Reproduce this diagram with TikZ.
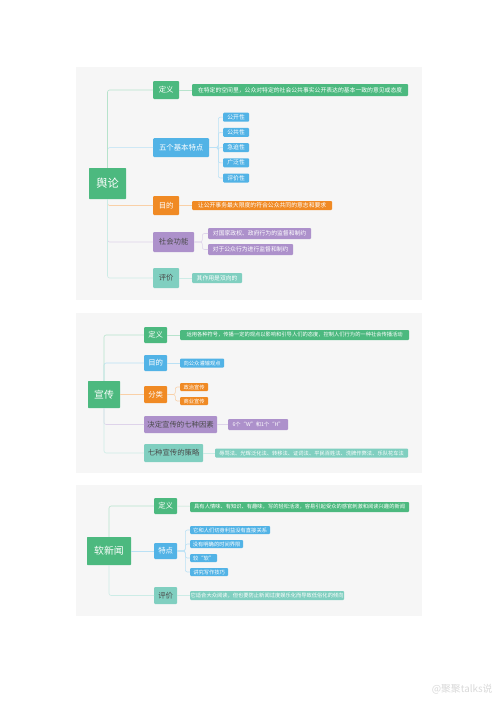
\documentclass[tikz,border=0pt]{standalone}
\usepackage{fontspec}
\setmainfont{Noto Sans CJK SC}
\definecolor{grn}{HTML}{4CB97F}
\definecolor{blu}{HTML}{52B3E6}
\definecolor{org}{HTML}{F08A24}
\definecolor{pur}{HTML}{AD91CB}
\definecolor{tea}{HTML}{80CFC0}
\definecolor{ink}{HTML}{4A4A4A}
\definecolor{paper}{HTML}{F6F6F6}

\begin{document}
\begin{tikzpicture}[x=0.05cm,y=-0.05cm,
  wh/.style 2 args={minimum width=#1*0.05cm,minimum height=#2*0.05cm},
  rootbox/.style={fill=grn,text=white,rounded corners=1pt,inner sep=0pt,font=\fontsize{14}{14}\selectfont},
  topic/.style={fill=#1,text=white,rounded corners=1.5pt,inner sep=0pt,anchor=west,font=\fontsize{10.5}{11}\selectfont},
  leaftext/.style={font=\fontsize{7.5}{8}\selectfont},
  leafbox/.style={fill=#1,text=white,rounded corners=1.5pt,inner sep=0pt,anchor=west,leaftext},
  wire/.style={draw=#1!40!white,line width=0.8pt,rounded corners=3pt}]
  \useasboundingbox (0,0) rectangle (500,707);
  \fill[white] (0,0) rectangle (500,707);
  \fill[paper] (76,67) rectangle (422,300);
  \fill[paper] (76,313) rectangle (422,473);
  \fill[paper] (76,485) rectangle (422,616);

  % panel 1: 舆论
  \begin{scope}[leaftext/.style={font=\fontsize{8.3}{9}\selectfont}]
  \node[rootbox,wh={37}{31},font=\fontsize{16}{16}\selectfont] (yl) at (107.5,183.5) {舆论};
  \node[topic=grn,wh={26}{18}] (yl-def) at (153,90) {定义};
  \node[topic=blu,wh={56}{19}] (yl-feat) at (153,147.6) {五个基本特点};
  \node[topic=org,wh={26}{19}] (yl-aim) at (153,205.5) {目的};
  \node[topic=pur,text=ink,wh={41}{20}] (yl-func) at (153,242) {社会功能};
  \node[topic=tea,text=ink,wh={26}{20}] (yl-eval) at (153,278) {评价};
  \draw[wire=org] (yl) |- (yl-aim);
  \draw[wire=pur] (yl) |- (yl-func);
  \draw[wire=blu] (yl) |- (yl-feat);
  \draw[wire=grn] (yl) |- (yl-def);
  \draw[wire=tea] (yl) |- (yl-eval);

  \node[leafbox=grn,wh={216}{12}] (yl-def-t) at (192,90) {在特定的空间里，公众对特定的社会公共事实公开表达的基本一致的意见或态度};
  \draw[wire=grn] (yl-def) -- (yl-def-t);
  \foreach \t [count=\i] in {公开性,公共性,急迫性,广泛性,评价性}{
    \node[leafbox=blu,wh={26}{9}] (yl-f\i) at (223,102+15.2*\i) {\t};
    \draw[wire=blu] (yl-feat.east) -- ++(9,0) |- (yl-f\i);
  }
  \node[leafbox=org,wh={140}{9}] (yl-aim-t) at (192,205.5) {让公开事务最大限度的符合公众共同的意志和要求};
  \draw[wire=org] (yl-aim) -- (yl-aim-t);
  \node[leafbox=pur,wh={103}{11}] (yl-func-a) at (208,233.5) {对国家政权、政府行为的监督和制约};
  \node[leafbox=pur,wh={85}{11}] (yl-func-b) at (208,249.5) {对于公众行为进行监督和制约};
  \draw[wire=pur] (yl-func.east) -- ++(8,0) |- (yl-func-a);
  \draw[wire=pur] (yl-func.east) -- ++(8,0) |- (yl-func-b);
  \node[leafbox=tea,wh={50}{10}] (yl-eval-t) at (192,278) {其作用是双向的};
  \draw[wire=tea] (yl-eval) -- (yl-eval-t);
  \end{scope}

  % panel 2: 宣传
  \node[rootbox,wh={32}{27}] (xc) at (104,394.5) {宣传};
  \node[topic=grn,wh={23}{16}] (xc-def) at (144,335) {定义};
  \node[topic=blu,wh={23}{16}] (xc-aim) at (144,363) {目的};
  \node[topic=org,wh={23}{17}] (xc-cls) at (144,394.5) {分类};
  \node[topic=pur,text=ink,wh={73}{17}] (xc-fac) at (144,424.5) {决定宣传的七种因素};
  \node[topic=tea,text=ink,wh={59}{18}] (xc-tac) at (144,453) {七种宣传的策略};
  \draw[wire=blu] (xc) |- (xc-aim);
  \draw[wire=grn] (xc) |- (xc-def);
  \draw[wire=org] (xc) -- (xc-cls);
  \draw[wire=pur] (xc) |- (xc-fac);
  \draw[wire=tea] (xc) |- (xc-tac);

  \node[leafbox=grn,wh={229}{10}] (xc-def-t) at (180,335) {运用各种符号，传播一定的观点以影响和引导人们的态度，控制人们行为的一种社会传播活动};
  \draw[wire=grn] (xc-def) -- (xc-def-t);
  \node[leafbox=blu,wh={44}{9}] (xc-aim-t) at (180,363) {向公众灌输观点};
  \draw[wire=blu] (xc-aim) -- (xc-aim-t);
  \node[leafbox=org,wh={28}{8}] (xc-cls-a) at (180,387) {政治宣传};
  \node[leafbox=org,wh={28}{8}] (xc-cls-b) at (180,401) {商业宣传};
  \draw[wire=org] (xc-cls.east) -- ++(8,0) |- (xc-cls-a);
  \draw[wire=org] (xc-cls.east) -- ++(8,0) |- (xc-cls-b);
  \node[leafbox=pur,wh={60}{11}] (xc-fac-t) at (228,424.5) {6个“W”和1个“H”};
  \draw[wire=pur] (xc-fac) -- (xc-fac-t);
  \node[leafbox=tea,wh={193}{9}] (xc-tac-t) at (215,453) {辱骂法、光辉泛化法、转移法、证词法、平民百姓法、洗牌作弊法、乐队花车法};
  \draw[wire=tea] (xc-tac) -- (xc-tac-t);

  % panel 3: 软新闻
  \node[rootbox,wh={44}{28}] (rw) at (109,551) {软新闻};
  \node[topic=grn,wh={23}{16}] (rw-def) at (154,506) {定义};
  \node[topic=blu,wh={23}{16}] (rw-feat) at (154,551) {特点};
  \node[topic=tea,text=ink,wh={23}{17}] (rw-eval) at (154,595.5) {评价};
  \draw[wire=grn] (rw) |- (rw-def);
  \draw[wire=blu] (rw) -- (rw-feat);
  \draw[wire=tea] (rw) |- (rw-eval);

  \node[leafbox=grn,wh={219}{10}] (rw-def-t) at (190,507) {具有人情味、有知识、有趣味，写的轻松活泼，容易引起受众的感官刺激和阅读兴趣的新闻};
  \draw[wire=grn] (rw-def) -- (rw-def-t);
  \foreach \t/\w [count=\i] in {它和人们切身利益没有直接关系/80,没有明确的时间界限/53,较“软”/27,讲究写作技巧/38}{
    \node[leafbox=blu,wh={\w}{8}] (rw-f\i) at (190,516+14*\i) {\t};
    \draw[wire=blu] (rw-feat.east) -- ++(8,0) |- (rw-f\i);
  }
  \node[leafbox=tea,wh={154}{9}] (rw-eval-t) at (190,595.5) {它适合大众阅读，但也要防止新闻过度娱乐化而导致低俗化的倾向};
  \draw[wire=tea] (rw-eval) -- (rw-eval-t);

  \node[text=black!15,anchor=east,font=\fontsize{14}{14}\selectfont] (mark) at (495,689) {@聚聚talks说};
\end{tikzpicture}
\end{document}
